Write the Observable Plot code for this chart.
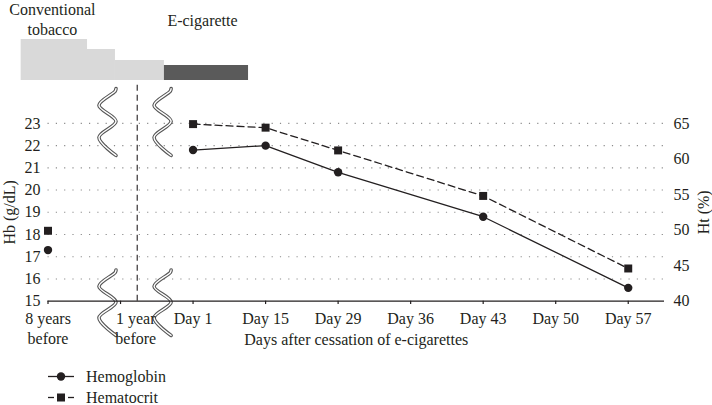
<!DOCTYPE html>
<html><head><meta charset="utf-8">
<script src="https://cdn.jsdelivr.net/npm/d3@7"></script>
<script src="https://cdn.jsdelivr.net/npm/@observablehq/plot@0.6"></script>
<style>
body{margin:0;background:#fff;font-family:"Liberation Serif",serif;color:#231f20}
#wrap{position:relative;width:712px;height:405px;overflow:hidden}
#topchart{position:absolute;left:0;top:0}
#mainchart{position:absolute;left:0;top:84px}
#legend{position:absolute;left:47px;top:366px;font-size:16px;line-height:18px}
svg{overflow:visible}
</style></head><body>
<div id="wrap"><div id="topchart"></div><div id="mainchart"></div><div id="legend"></div></div>
<script>
// ---- data ----
const categories = ["8 years\nbefore", "", "Day 1", "Day 15", "Day 29", "Day 36", "Day 43", "Day 50", "Day 57"];
const hemoglobin = [17.3, null, 21.8, 22.0, 20.8, null, 18.8, null, 15.6];   // g/dL
const hematocrit = [49.9, null, 64.9, 64.4, 61.2, null, 54.8, null, 44.6];   // %
const hbTicks = [15, 16, 17, 18, 19, 20, 21, 22, 23];
const htTicks = [40, 45, 50, 55, 60, 65];
const oneYearLabel = "1 year\nbefore";
const seriesNames = ["Hemoglobin", "Hematocrit"];
const xTitle = "Days after cessation of e-cigarettes";
// smoking history bars (schematic)
const periodStart = [-0.37, 0.545, 0.93, 1.605];
const periodEnd   = [0.545, 0.93, 1.605, 2.765];
const periodLevel = [4.1, 3.1, 2.0, 1.5];
const periodType  = ["conventional", "conventional", "conventional", "ecig"];
const periodLabels = ["Conventional\ntobacco", "E-cigarette"];

// ---- layout helpers ----
const ink = "#231f20";
const htToHb = v => 15 + (v - 40) * 8 / 25;
const hbToHt = d => Math.round(40 + (d - 15) * 25 / 8);
const xDomain = [0, 8.5];
const oneYearPos = 1.21, breakLinePos = 1.23;
const breaks = [0.82, 1.58];
const squiggle = [[0.5, -0.04], [0.45, 0], [-0.5, 0.22], [0.5, 0.47], [-0.5, 0.72], [0.5, 1.0]];

const rows = categories.map((c, i) => ({i, c, hb: hemoglobin[i], ht: hematocrit[i] == null ? null : htToHb(hematocrit[i])}));
const hbPts = rows.filter(d => d.hb != null);
const htPts = rows.filter(d => d.ht != null);
const hbLine = hbPts.filter(d => d.i >= 2);
const htLine = htPts.filter(d => d.i >= 2);

const sq = [];
breaks.forEach((cx, b) => {
  [[24.45, 21.56], [16.29, 13.46]].forEach(([yt, yb], k) => {
    squiggle.forEach(([u, v]) => sq.push({g: b * 2 + k, x: cx + u * 0.235, y: yt - v * (yt - yb)}));
  });
});

const font = {fontFamily: "Liberation Serif, serif", fontSize: "16px", color: ink, background: "transparent", overflow: "visible"};

// ---- top schematic ----
const periods = periodStart.map((s, k) => ({s, e: periodEnd[k], level: periodLevel[k], type: periodType[k]}));
const topPlot = Plot.plot({
  width: 712, height: 84, marginTop: 0, marginBottom: 4, marginLeft: 47.5, marginRight: 48,
  x: {domain: xDomain, axis: null},
  y: {domain: [0, 8], axis: null},
  style: font,
  marks: [
    Plot.rect(periods, {x1: "s", x2: "e", y1: 0, y2: "level", fill: d => d.type === "ecig" ? "#5a5a5a" : "#d9d9d9"}),
    Plot.text([periodLabels[0]], {x: 0.06, y: 8, lineAnchor: "top", dy: 0, lineHeight: 1.25, fill: ink, fontSize: 16}),
    Plot.text([periodLabels[1]], {x: 2.13, y: 8, lineAnchor: "top", dy: 14, fill: ink, fontSize: 16})
  ]
});
document.getElementById("topchart").append(topPlot);

// ---- main chart ----
const mainPlot = Plot.plot({
  width: 712, height: 270, marginTop: 0, marginBottom: 53.3, marginLeft: 47.5, marginRight: 48,
  x: {domain: xDomain, axis: null},
  y: {domain: [15, 24.75], axis: null},
  style: font,
  marks: [
    Plot.ruleY(hbTicks.slice(1), {x1: 0, x2: 8.5, stroke: "#8c8c8c", strokeWidth: 1.1, strokeDasharray: "1.2,7.1"}),
    Plot.ruleX([breakLinePos], {y1: 15, y2: 24.75, stroke: ink, strokeWidth: 1.1, strokeDasharray: "6,4"}),
    Plot.line(sq, {x: "x", y: "y", z: "g", curve: "catmull-rom", stroke: "#555", strokeWidth: 3.6}),
    Plot.line(sq, {x: "x", y: "y", z: "g", curve: "catmull-rom", stroke: "#fff", strokeWidth: 1.4}),
    Plot.ruleY([15], {x1: 0, x2: 8.5, stroke: ink, strokeWidth: 1.3}),
    Plot.ruleX(rows, {x: "i", y1: 15, y2: 14.85, stroke: ink, strokeWidth: 1.2}),
    Plot.axisY(hbTicks, {anchor: "left", tickSize: 0, tickPadding: 7.5, fontSize: 16, label: null}),
    Plot.axisY(htTicks.map(htToHb), {anchor: "right", tickSize: 0, tickPadding: 9, fontSize: 16, tickFormat: hbToHt, textAnchor: "start", label: null}),
    Plot.text(rows, {x: "i", y: 15, text: "c", lineAnchor: "top", dy: 9, lineHeight: 1.22, fill: ink, fontSize: 16}),
    Plot.text([oneYearLabel], {x: oneYearPos, y: 15, lineAnchor: "top", dy: 9, lineHeight: 1.22, fill: ink, fontSize: 16}),
    Plot.text([xTitle], {x: 4.25, y: 15, lineAnchor: "top", dy: 32.5, fill: ink, fontSize: 16}),
    Plot.text(["Hb (g/dL)"], {x: 0, y: 19, dx: -38.5, rotate: -90, fill: ink, fontSize: 16}),
    Plot.text(["Ht (%)"], {x: 8.5, y: 19, dx: 39, rotate: -90, fill: ink, fontSize: 16}),
    Plot.line(htLine, {x: "i", y: "ht", stroke: ink, strokeWidth: 1.3, strokeDasharray: "7,4"}),
    Plot.line(hbLine, {x: "i", y: "hb", stroke: ink, strokeWidth: 1.3}),
    Plot.dot(htPts, {x: "i", y: "ht", symbol: "square", r: 4.5, fill: ink}),
    Plot.dot(hbPts, {x: "i", y: "hb", symbol: "circle", r: 4.2, fill: ink})
  ]
});
document.getElementById("mainchart").append(mainPlot);

// ---- legend ----
const leg = document.getElementById("legend");
seriesNames.forEach((name, k) => {
  const row = document.createElement("div");
  row.style.cssText = "display:flex;align-items:center;height:21px";
  const sym = k === 0
    ? `<svg width="28" height="21"><line x1="1" x2="27" y1="10.5" y2="10.5" stroke="${ink}" stroke-width="1.3"/><circle cx="14" cy="10.5" r="4.2" fill="${ink}"/></svg>`
    : `<svg width="28" height="21"><line x1="1" x2="7" y1="10.5" y2="10.5" stroke="${ink}" stroke-width="1.3"/><line x1="21" x2="27" y1="10.5" y2="10.5" stroke="${ink}" stroke-width="1.3"/><rect x="10" y="6.5" width="8" height="8" fill="${ink}"/></svg>`;
  row.innerHTML = sym + `<span style="margin-left:11px">${name}</span>`;
  leg.append(row);
});
</script>
</body></html>
